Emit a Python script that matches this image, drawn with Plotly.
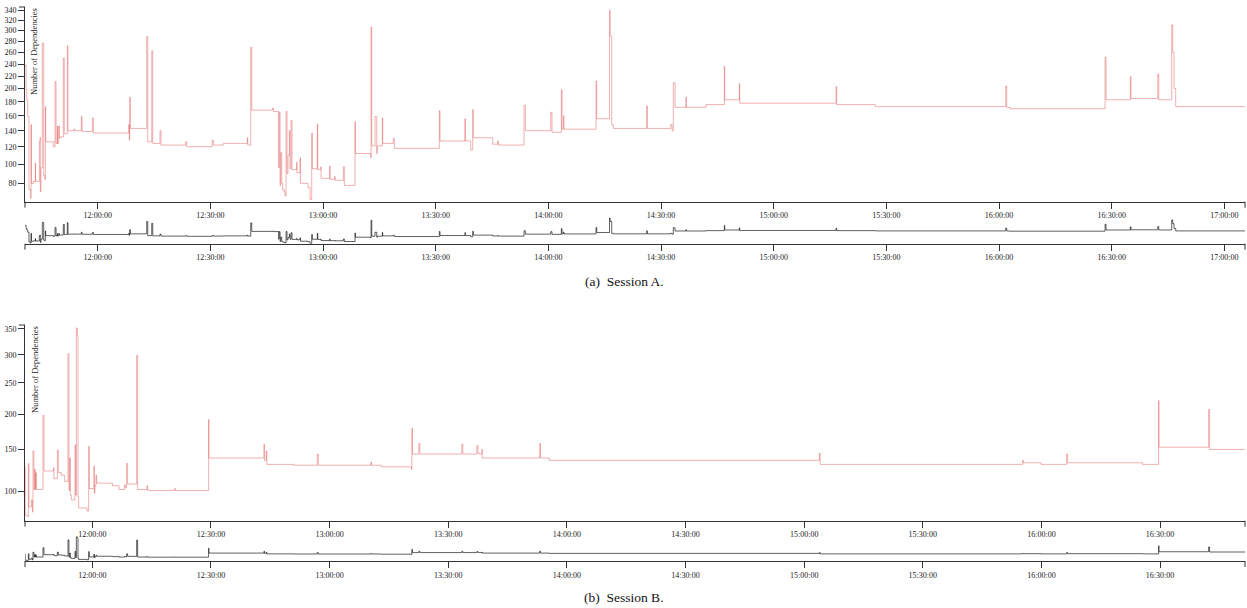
import numpy as np
import plotly.graph_objects as go

# ---------------- data ----------------
session_a_time = [
    "11:40:38", "11:40:55", "11:41:06", "11:41:22", "11:41:42", "11:42:09", "11:42:14", "11:42:22",
    "11:42:51", "11:43:23", "11:43:26", "11:44:27", "11:44:38", "11:44:43", "11:44:54", "11:45:15",
    "11:45:37", "11:45:53", "11:46:03", "11:46:09", "11:48:11", "11:48:38", "11:48:54", "11:49:15",
    "11:49:19", "11:49:37", "11:49:47", "11:49:58", "11:50:50", "11:51:06", "11:51:54", "11:52:05",
    "11:53:41", "11:53:57", "11:55:38", "11:55:49", "11:58:34", "11:58:50", "12:08:15", "12:08:25",
    "12:08:31", "12:08:41", "12:13:03", "12:13:19", "12:14:23", "12:14:39", "12:16:35", "12:16:51",
    "12:23:26", "12:23:42", "12:30:31", "12:30:47", "12:33:27", "12:39:50", "12:39:57", "12:40:45",
    "12:41:01", "12:46:30", "12:46:46", "12:48:12", "12:48:17", "12:48:33", "12:48:44", "12:49:00",
    "12:49:16", "12:49:37", "12:49:53", "12:50:09", "12:50:24", "12:50:40", "12:51:01", "12:51:12",
    "12:51:28", "12:51:44", "12:52:59", "12:53:04", "12:53:52", "12:54:00", "12:56:00", "12:56:32",
    "12:56:59", "12:57:09", "12:58:29", "12:58:35", "12:59:23", "12:59:28", "13:01:47", "13:01:52",
    "13:03:07", "13:03:11", "13:05:24", "13:05:40", "13:08:31", "13:08:36", "13:12:42", "13:12:47",
    "13:12:58", "13:13:50", "13:14:18", "13:14:27", "13:15:47", "13:15:53", "13:18:43", "13:18:59",
    "13:30:58", "13:31:09", "13:37:48", "13:37:53", "13:39:19", "13:39:51", "13:40:01", "13:45:11",
    "13:46:31", "13:46:40", "13:53:31", "13:53:52", "14:00:38", "14:00:58", "14:03:27", "14:03:38",
    "14:03:59", "14:04:10", "14:12:41", "14:12:53", "14:16:17", "14:16:27", "14:16:52", "14:17:18",
    "14:26:11", "14:26:21", "14:32:35", "14:32:56", "14:33:16", "14:33:44", "14:36:39", "14:36:44",
    "14:41:59", "14:46:51", "14:46:58", "14:50:51", "14:50:57", "15:16:36", "15:16:47", "15:27:04",
    "16:01:47", "16:02:03", "16:02:56", "16:28:14", "16:28:30", "16:34:58", "16:35:09", "16:42:16",
    "16:42:32", "16:45:59", "16:46:15", "16:46:36", "16:47:03", "17:05:30",
]
session_a_deps = [
    238, 198, 183, 159, 74, 66, 148, 80,
    82, 101, 82, 126, 131, 72, 96, 277,
    88, 84, 173, 126, 120, 211, 124, 146,
    124, 146, 131, 132, 250, 136, 272, 140,
    142, 140, 159, 139, 157, 137, 148, 128,
    187, 143, 289, 126, 263, 124, 140, 122,
    126, 120, 128, 122, 124, 131, 122, 269,
    168, 171, 166, 96, 165, 78, 113, 80,
    74, 72, 68, 166, 90, 110, 140, 95,
    154, 94, 102, 91, 107, 80, 76, 65,
    137, 95, 149, 94, 97, 85, 98, 84,
    87, 83, 97, 78, 152, 112, 107, 307,
    121, 159, 112, 121, 157, 124, 130, 118,
    167, 127, 156, 127, 116, 169, 131, 123,
    127, 122, 175, 140, 165, 138, 198, 142,
    160, 142, 212, 156, 340, 290, 148, 143,
    174, 143, 148, 140, 209, 172, 187, 172,
    176, 236, 183, 208, 178, 203, 176, 173,
    204, 172, 170, 252, 183, 219, 185, 223,
    183, 311, 260, 200, 173, 173,
]

session_b_time = [
    "11:42:58", "11:43:01", "11:43:31", "11:43:49", "11:43:58", "11:44:35", "11:44:50", "11:44:59",
    "11:45:14", "11:45:25", "11:45:35", "11:45:40", "11:45:51", "11:47:31", "11:47:46", "11:50:13",
    "11:50:17", "11:51:09", "11:51:24", "11:52:10", "11:53:00", "11:53:50", "11:54:05", "11:54:16",
    "11:54:26", "11:54:41", "11:55:36", "11:55:47", "11:55:57", "11:56:12", "11:56:22", "11:56:32",
    "11:58:38", "11:59:04", "11:59:14", "12:00:24", "12:00:30", "12:00:39", "12:00:55", "12:01:05",
    "12:05:03", "12:06:44", "12:08:10", "12:08:21", "12:08:40", "12:08:55", "12:11:12", "12:11:27",
    "12:13:48", "12:13:59", "12:20:48", "12:20:59", "12:29:24", "12:29:29", "12:43:23", "12:43:33",
    "12:43:59", "12:44:08", "12:50:53", "12:56:53", "12:57:08", "13:10:26", "13:10:36", "13:13:04",
    "13:20:43", "13:20:48", "13:20:58", "13:22:34", "13:22:49", "13:33:26", "13:33:41", "13:37:14",
    "13:37:29", "13:37:55", "13:38:30", "13:38:36", "13:53:09", "13:53:20", "13:55:32", "15:03:52",
    "15:04:02", "15:55:15", "15:55:26", "15:59:54", "16:06:23", "16:06:38", "16:25:36", "16:29:38",
    "16:29:44", "16:42:17", "16:42:32", "16:51:29",
]
session_b_deps = [
    128, 76, 75, 132, 84, 91, 79, 148,
    102, 125, 102, 121, 102, 198, 123, 127,
    114, 149, 121, 118, 111, 302, 101, 139,
    96, 91, 156, 96, 352, 337, 94, 83,
    80, 154, 103, 129, 98, 106, 118, 109,
    106, 102, 107, 104, 132, 108, 299, 102,
    106, 101, 103, 101, 192, 139, 157, 136,
    148, 131, 130, 144, 130, 134, 130, 128,
    125, 179, 144, 158, 144, 157, 144, 155,
    145, 144, 150, 139, 158, 139, 136, 145,
    131, 136, 133, 131, 144, 133, 131, 221,
    153, 207, 150, 150,
]

a_ticks = [80, 100, 120, 140, 160, 180, 200, 220, 240, 260, 280, 300, 320, 340]
b_ticks = [100, 150, 200, 250, 300, 350]
a_value_range = [63, 346.7]
b_value_range = [71, 358]
a_time_range = ["11:40:38", "17:05:30"]
b_time_range = ["11:42:58", "16:51:29"]
y_title = "Number of Dependencies"
captions = ["(a)\u00a0\u00a0Session A.", "(b)\u00a0\u00a0Session B."]

# ---------------- helpers ----------------
DAY = "2020-01-01 "
W, H = 1247, 608


def dt(ts):
    return [DAY + t for t in ts]


def sq(v):
    return list(np.sqrt(np.asarray(v, dtype=float)))


def fy(px_top, px_bottom):
    return [1 - px_bottom / H, 1 - px_top / H]


FONT = "Liberation Serif"
AX = "#333333"
RED = "rgba(214,39,40,0.36)"
BLACK = "rgba(0,0,0,0.62)"

fig = go.Figure()
fig.add_trace(go.Scatter(x=dt(session_a_time), y=sq(session_a_deps), mode="lines",
                         line=dict(color=RED, width=1, shape="hv"), xaxis="x", yaxis="y",
                         hoverinfo="skip"))
fig.add_trace(go.Scatter(x=dt(session_a_time), y=sq(session_a_deps), mode="lines",
                         line=dict(color=BLACK, width=1, shape="hv"), xaxis="x2", yaxis="y2",
                         hoverinfo="skip"))
fig.add_trace(go.Scatter(x=dt(session_b_time), y=sq(session_b_deps), mode="lines",
                         line=dict(color=RED, width=1, shape="hv"), xaxis="x3", yaxis="y3",
                         hoverinfo="skip"))
fig.add_trace(go.Scatter(x=dt(session_b_time), y=sq(session_b_deps), mode="lines",
                         line=dict(color=BLACK, width=1, shape="hv"), xaxis="x4", yaxis="y4",
                         hoverinfo="skip"))

xdom = [25 / W, 1245 / W]


def xaxis(anchor, trange):
    return dict(domain=xdom, anchor=anchor, type="date", range=dt(trange),
                tick0=DAY + "12:00:00", dtick=1800000, tickformat="%H:%M:%S",
                ticks="outside", ticklen=6, tickwidth=1, tickcolor=AX,
                showline=True, linecolor=AX, linewidth=1, showgrid=False, zeroline=False,
                automargin=False,
                tickfont=dict(family=FONT, size=8, color="#222"), fixedrange=True)


def yaxis_main(anchor, dom, vrange, ticks):
    return dict(domain=dom, anchor=anchor, range=sq(vrange), tickmode="array",
                tickvals=sq(ticks), ticktext=[str(t) for t in ticks],
                ticks="outside", ticklen=6, tickwidth=1, tickcolor=AX,
                showline=True, linecolor=AX, linewidth=1, showgrid=False, zeroline=False,
                automargin=False,
                tickfont=dict(family=FONT, size=8, color="#222"), fixedrange=True)


def yaxis_ctx(anchor, dom, vrange):
    return dict(domain=dom, anchor=anchor, range=sq(vrange), showline=False,
                showticklabels=False, ticks="", showgrid=False, zeroline=False,
                automargin=False, fixedrange=True)


fig.update_layout(
    width=W, height=H, margin=dict(l=0, r=0, t=0, b=0, pad=0, autoexpand=False),
    paper_bgcolor="white", plot_bgcolor="white", showlegend=False,
    xaxis=xaxis("y", a_time_range),
    yaxis=yaxis_main("x", fy(7, 201.7), a_value_range, a_ticks),
    xaxis2=xaxis("y2", a_time_range),
    yaxis2=yaxis_ctx("x2", fy(217.5, 243.7), a_value_range),
    xaxis3=xaxis("y3", b_time_range),
    yaxis3=yaxis_main("x3", fy(325, 520.7), b_value_range, b_ticks),
    xaxis4=xaxis("y4", b_time_range),
    yaxis4=yaxis_ctx("x4", fy(536.3, 561), b_value_range),
)

# outer end ticks (d3 style)
shapes = []
for xa, ya in [("x", "y"), ("x2", "y2"), ("x3", "y3"), ("x4", "y4")]:
    for xx in (0, 1):
        shapes.append(dict(type="line", xref=f"{xa} domain", yref=f"{ya} domain",
                           ysizemode="pixel", yanchor=0, x0=xx, x1=xx, y0=0, y1=-6,
                           line=dict(color=AX, width=1)))
for xa, ya in [("x", "y"), ("x3", "y3")]:
    shapes.append(dict(type="line", xref=f"{xa} domain", yref=f"{ya} domain",
                       xsizemode="pixel", xanchor=0, x0=0, x1=-6, y0=1, y1=1,
                       line=dict(color=AX, width=1)))
fig.update_layout(shapes=shapes)

annotations = []
for top in (6, 324):
    annotations.append(dict(text=y_title, textangle=-90, xref="paper", yref="paper",
                            x=27.5 / W, y=1 - top / H, xanchor="left", yanchor="top",
                            showarrow=False, font=dict(family=FONT, size=8.5, color="#222")))
for cap, yc in zip(captions, (281, 597)):
    annotations.append(dict(text=cap, xref="paper", yref="paper", x=624 / W, y=1 - yc / H,
                            xanchor="center", yanchor="middle", showarrow=False,
                            font=dict(family=FONT, size=13.5, color="#111")))
fig.update_layout(annotations=annotations)

fig.write_html(
    "out.html",
    config={"displayModeBar": False},
    post_script="document.body.style.margin='0';document.body.style.overflow='hidden';",
)
